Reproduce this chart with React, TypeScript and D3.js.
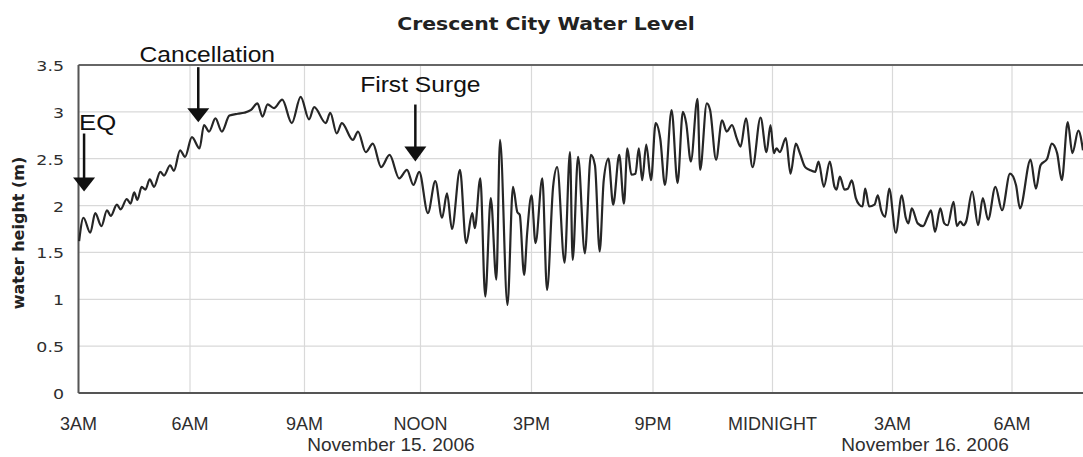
import React from "react";
import * as d3 from "d3";

// Tide gauge record, minutes after 3AM on Nov 15, and water height in metres.
const minutesAfter3am = [
  1, 8, 19, 27, 37, 46, 52, 62, 68, 78, 84, 90, 95, 102, 108, 115, 122, 132, 138, 148, 154, 164, 172, 183,
  195, 202, 210, 220, 230, 242, 255, 265, 276, 286, 294, 302, 312, 325, 340, 354, 367, 375, 393,
  400, 410, 418, 435, 443, 455, 466, 479, 492, 507, 519, 529, 538, 552, 564, 575, 583, 591,
  604, 614, 624, 628, 637, 645, 654, 663, 669, 681, 690, 697, 701, 708, 713, 720, 726, 736, 743, 752, 758, 769, 777, 781, 789,
  799, 808, 814, 821, 827, 834, 841, 850, 857, 862, 868, 874, 879, 884, 890, 897, 904, 911, 918, 928, 937, 945, 950, 957, 967, 971,
  981, 986, 995, 1004, 1011, 1019, 1026, 1032, 1040, 1050, 1062, 1071, 1077, 1082, 1086, 1091, 1100, 1107, 1115, 1121, 1129, 1136, 1144, 1149, 1157, 1166,
  1173, 1176, 1181, 1188, 1193, 1199, 1205, 1210, 1215, 1219, 1225, 1233, 1238, 1243, 1249, 1255, 1265, 1274, 1280, 1284, 1289, 1298, 1306, 1313, 1318, 1324, 1332, 1338, 1343, 1352,
  1357, 1362, 1367, 1371, 1380, 1389, 1396, 1404, 1415, 1425, 1437, 1446, 1452, 1468, 1476, 1483, 1493, 1500, 1508, 1515, 1524, 1531, 1540, 1547,
];

const waterLevel = [
  1.62, 1.87, 1.71, 1.92, 1.78, 1.95, 1.89, 2.01, 1.96, 2.07, 2.02, 2.14, 2.06, 2.2, 2.17, 2.28, 2.2, 2.36, 2.32, 2.43, 2.37, 2.59, 2.52, 2.73,
  2.61, 2.86, 2.79, 2.93, 2.79, 2.96, 2.98, 2.99, 3.02, 3.09, 2.95, 3.08, 3.04, 3.13, 2.88, 3.16, 2.92, 3.05, 2.88,
  2.99, 2.77, 2.88, 2.7, 2.79, 2.57, 2.66, 2.41, 2.54, 2.29, 2.38, 2.22, 2.36, 1.92, 2.26, 1.87, 2.13, 1.75,
  2.38, 1.6, 1.92, 1.76, 2.29, 1.03, 2.08, 1.21, 2.7, 0.94, 2.2, 1.93, 1.9, 1.26, 1.71, 2.11, 1.6, 2.29, 1.1, 2.2, 2.41, 1.39, 2.57, 1.42, 2.52,
  1.49, 2.54, 2.43, 1.51, 2.27, 2.5, 2.01, 2.54, 2.02, 2.61, 2.33, 2.34, 2.61, 2.27, 2.65, 2.27, 2.88, 2.71, 2.22, 3.02, 2.24, 3.0, 2.88, 2.47, 3.14, 2.38,
  3.09, 3.02, 2.49, 2.91, 2.79, 2.86, 2.72, 2.63, 2.93, 2.41, 2.94, 2.57, 2.86, 2.56, 2.61, 2.57, 2.72, 2.34, 2.66, 2.56, 2.41, 2.38, 2.36, 2.47, 2.2, 2.47,
  2.2, 2.17, 2.31, 2.17, 2.18, 2.27, 2.08, 2.01, 1.99, 2.18, 1.99, 2.01, 2.11, 1.95, 1.88, 2.18, 1.71, 2.11, 1.87, 1.81, 1.97, 1.81, 1.78, 1.88, 1.95, 1.72, 1.97, 1.81, 1.79, 2.04,
  1.78, 1.83, 1.79, 1.83, 2.15, 1.79, 2.08, 1.85, 2.2, 1.95, 2.34, 2.22, 1.97, 2.49, 2.18, 2.43, 2.5, 2.66, 2.56, 2.27, 2.89, 2.56, 2.8, 2.59,
];

const tickMinutes = [0, 180, 360, 540, 720, 900, 1080, 1260, 1440];
const tickLabels = ["3AM", "6AM", "9AM", "NOON", "3PM", "9PM", "MIDNIGHT", "3AM", "6AM"];
const endMinute = 1547;

const levelTicks = [0, 0.5, 1, 1.5, 2, 2.5, 3, 3.5];
const levelTickLabels = ["0", "0.5", "1", "1.5", "2", "2.5", "3", "3.5"];

const dateLabels = ["November 15. 2006", "November 16. 2006"];
const dateLabelMinutes = [494, 1309];

const eventNames = ["EQ", "Cancellation", "First Surge"];
const eventMinutes = [9, 193, 532];
const eventTipLevels = [2.15, 2.89, 2.47];

export default function App() {
  const W = 1083;
  const H = 457;
  const top = 65;
  const bottom = 393;

  // The time axis is drawn with slightly uneven spacing between the 3-hour marks.
  const x = d3
    .scaleLinear()
    .domain([...tickMinutes, endMinute])
    .range([78.5, 190, 304.5, 420.5, 531.5, 653, 772.5, 892.5, 1012, 1083]);
  const y = d3.scaleLinear().domain([0, 3.5]).range([bottom, top]);

  const left = x(0);
  const right = x(endMinute);

  const line = d3
    .line<number>()
    .x((_, i) => x(minutesAfter3am[i]))
    .y((d) => y(d))
    .curve(d3.curveMonotoneX);

  const sx = 1.2;
  const sans = "'Liberation Sans', Arial, sans-serif";
  const verdana = "'DejaVu Sans', Verdana, sans-serif";

  // Annotation layout: shaft length above the arrow head, and label placement.
  const eventLayout = [
    { shaft: 44, head: 14, labelDx: -5, labelGap: 4, anchor: "start", size: 23 },
    { shaft: 41, head: 14, labelDx: 9, labelGap: 5, anchor: "middle", size: 22 },
    { shaft: 42, head: 15, labelDx: 5, labelGap: 13, anchor: "middle", size: 22 },
  ];

  return (
    <svg
      width={W}
      height={H}
      style={{ position: "absolute", left: 0, top: 0, background: "#fff" }}
    >
      <rect x={0} y={0} width={W} height={H} fill="#fff" />
      {/* grid */}
      {levelTicks.map((v) => (
        <line key={"gy" + v} x1={left} x2={right} y1={y(v)} y2={y(v)} stroke="#d9d9d9" strokeWidth={1.2} />
      ))}
      {tickMinutes.map((m) => (
        <line key={"gx" + m} x1={x(m)} x2={x(m)} y1={top} y2={bottom} stroke="#d9d9d9" strokeWidth={1.2} />
      ))}
      {/* frame */}
      <line x1={left} x2={right} y1={top} y2={top} stroke="#666" strokeWidth={2} />
      <line x1={left} x2={right} y1={bottom} y2={bottom} stroke="#555" strokeWidth={2} />
      <line x1={left} x2={left} y1={top} y2={bottom} stroke="#555" strokeWidth={2} />

      {/* water level trace */}
      <path d={line(waterLevel) || ""} fill="none" stroke="#262626" strokeWidth={2.2} strokeLinejoin="round" />

      {/* title */}
      <text
        transform={`translate(546,30) scale(${sx},1)`}
        textAnchor="middle"
        fontFamily={verdana}
        fontWeight="bold"
        fontSize={17}
        fill="#222"
      >
        Crescent City Water Level
      </text>

      {/* y tick labels */}
      {levelTicks.map((v, i) => (
        <text
          key={"ly" + v}
          transform={`translate(64,${y(v) + 6}) scale(${sx},1)`}
          textAnchor="end"
          fontFamily={verdana}
          fontSize={14.5}
          fill="#2e2e2e"
        >
          {levelTickLabels[i]}
        </text>
      ))}

      {/* y axis title */}
      <text
        transform="translate(24,233) rotate(-90)"
        textAnchor="middle"
        fontFamily={verdana}
        fontWeight="bold"
        fontSize={16}
        fill="#222"
      >
        water height (m)
      </text>

      {/* x tick labels */}
      {tickMinutes.map((m, i) => (
        <text key={"lx" + m} x={x(m)} y={430} textAnchor="middle" fontFamily={sans} fontSize={18} fill="#2e2e2e">
          {tickLabels[i]}
        </text>
      ))}

      {/* dates */}
      {dateLabels.map((d, i) => (
        <text
          key={d}
          transform={`translate(${x(dateLabelMinutes[i])},451) scale(1.06,1)`}
          textAnchor="middle"
          fontFamily={sans}
          fontSize={18}
          fill="#2e2e2e"
        >
          {d}
        </text>
      ))}

      {/* event arrows */}
      {eventNames.map((name, i) => {
        const L = eventLayout[i];
        const tx = x(eventMinutes[i]);
        const ty = y(eventTipLevels[i]);
        const headTop = ty - L.head;
        const shaftTop = headTop - L.shaft;
        return (
          <g key={name}>
            <line x1={tx} x2={tx} y1={shaftTop} y2={headTop + 1} stroke="#111" strokeWidth={2.5} />
            <path d={`M${tx - 11},${headTop}L${tx + 11},${headTop}L${tx},${ty}Z`} fill="#111" />
            <text
              transform={`translate(${tx + L.labelDx},${shaftTop - L.labelGap}) scale(1.12,1)`}
              textAnchor={L.anchor as any}
              fontFamily={sans}
              fontSize={L.size}
              fill="#111"
            >
              {name}
            </text>
          </g>
        );
      })}
    </svg>
  );
}
